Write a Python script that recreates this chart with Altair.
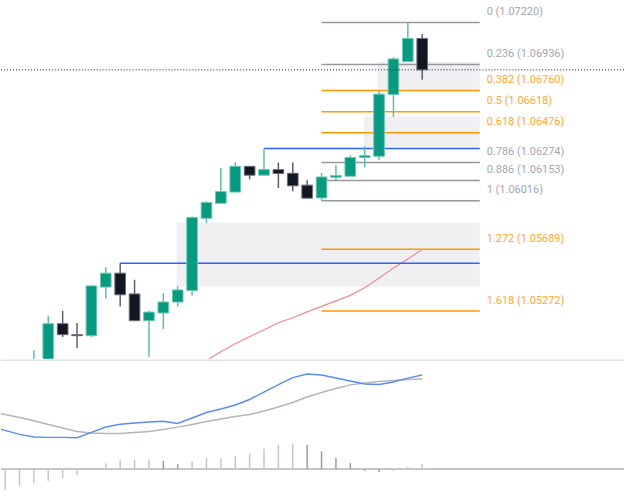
import altair as alt
import pandas as pd

# ---------------- data ----------------
idx = list(range(28))
opens  = [1.04870, 1.04880, 1.05187, 1.05113, 1.05106, 1.05434, 1.05528, 1.05388, 1.05207, 1.05259,
          1.05333, 1.05411, 1.05898, 1.05999, 1.06075, 1.06249, 1.06189, 1.06227, 1.06202, 1.06122,
          1.06036, 1.06175, 1.06182, 1.06308, 1.06317, 1.06734, 1.06956, 1.07112]
highs  = [1.05007, 1.05240, 1.05274, 1.05191, 1.05449, 1.05568, 1.05595, 1.05483, 1.05274, 1.05393,
          1.05442, 1.05911, 1.06014, 1.06238, 1.06274, 1.06249, 1.06370, 1.06274, 1.06274, 1.06155,
          1.06204, 1.06256, 1.06323, 1.06384, 1.06761, 1.06985, 1.07220, 1.07142]
lows   = [1.04840, 1.04860, 1.05097, 1.05021, 1.05097, 1.05357, 1.05303, 1.05207, 1.04963, 1.05151,
          1.05303, 1.05377, 1.05864, 1.05999, 1.06075, 1.06162, 1.06189, 1.06103, 1.06081, 1.06034,
          1.06016, 1.06149, 1.06182, 1.06241, 1.06294, 1.06581, 1.06956, 1.06833]
closes = [1.04930, 1.05187, 1.05113, 1.05106, 1.05442, 1.05528, 1.05382, 1.05207, 1.05265, 1.05333,
          1.05415, 1.05904, 1.06005, 1.06079, 1.06249, 1.06189, 1.06227, 1.06200, 1.06117, 1.06034,
          1.06177, 1.06187, 1.06308, 1.06321, 1.06736, 1.06974, 1.07112, 1.06900]

ma_idx = list(range(12, 28))
ma_vals = [1.04938, 1.04998, 1.05052, 1.05099, 1.05146, 1.05193, 1.05227, 1.05267,
           1.05304, 1.05341, 1.05378, 1.05429, 1.05496, 1.05563, 1.05624, 1.05688]

fib_levels = ["0", "0.236", "0.382", "0.5", "0.618", "0.786", "0.886", "1", "1.272", "1.618"]
fib_prices = [1.07220, 1.06936, 1.06760, 1.06618, 1.06476, 1.06274, 1.06153, 1.06016, 1.05689, 1.05272]
fib_kind   = ["g", "g", "o", "o", "o", "g", "g", "g", "o", "o"]
fib_start, fib_end = 20, 31

zone_x0  = [9.92, 22.96, 23.9]
zone_top = [1.05868, 1.06586, 1.06954]
zone_bot = [1.05436, 1.06379, 1.06760]

blue_x0    = [6, 16]
blue_price = [1.05595, 1.06370]

last_price = 1.06900

macd_idx = list(range(-3, 28))
macd = [10.7, 9.68, 8.68, 8.0, 7.93, 7.93, 7.85, 9.18, 10.55, 11.25, 11.55, 11.8, 12.0, 11.43, 12.8, 14.18,
        15.05, 16.05, 17.43, 19.3, 21.18, 22.93, 23.85, 23.6, 22.8, 22.05, 21.3, 21.18, 21.8, 22.8, 23.6]
signal = [14.4, 13.68, 12.93, 12.1, 11.18, 10.3, 9.43, 9.0, 8.93, 8.93, 9.18, 9.43, 9.93, 10.5, 11.18, 11.93,
          12.55, 13.18, 13.68, 14.55, 15.55, 16.68, 18.05, 19.18, 20.18, 21.1, 21.55, 21.93, 22.18, 22.43, 22.6]
hist = [-5.9, -5.33, -4.25, -3.65, -3.0, -2.25, -1.58, -0.25, 1.43, 2.33, 2.33, 2.33, 2.08, 1.18, 1.93, 2.75,
        2.75, 3.25, 3.83, 5.08, 6.08, 6.25, 6.08, 4.43, 2.75, 1.5, -0.43, -0.75, -0.5, 0.58, 1.25]

# ---------------- frames ----------------
W = 625
H1, H2 = 359, 139
XDOM = [-2.287, 41.03]
YDOM = [1.04951, 1.07366]
MDOM = [-7.33, 27.43]

cd = pd.DataFrame({"i": idx, "open": opens, "high": highs, "low": lows, "close": closes})
cd["dir"] = ["up" if c >= o else "down" for o, c in zip(opens, closes)]
cd["btop"] = cd[["open", "close"]].max(axis=1)
cd["bbot"] = cd[["open", "close"]].min(axis=1)

xs = alt.Scale(domain=XDOM, nice=False, zero=False)
ys = alt.Scale(domain=YDOM, nice=False, zero=False)
ms = alt.Scale(domain=MDOM, nice=False, zero=False)

X = lambda f: alt.X(f, type="quantitative", scale=xs, axis=None)
Y = lambda f: alt.Y(f, type="quantitative", scale=ys, axis=None)

zones = pd.DataFrame({"x0": zone_x0, "x1": [fib_end] * 3, "top": zone_top, "bot": zone_bot})
zone_layer = alt.Chart(zones).mark_rect(color="#f0f0f3", clip=True).encode(
    x=X("x0"), x2="x1", y=Y("top"), y2="bot")

blue = pd.DataFrame({"x0": blue_x0, "x1": [fib_end] * 2, "p": blue_price})
blue_layer = alt.Chart(blue).mark_rule(color="#2962ff", strokeWidth=1.5, clip=True).encode(
    x=X("x0"), x2="x1", y=Y("p"))

fib = pd.DataFrame({"lvl": fib_levels, "p": fib_prices, "kind": fib_kind,
                    "x0": [fib_start] * len(fib_levels), "x1": [fib_end] * len(fib_levels)})
fib["label"] = [f"{l} ({p:.5f})" for l, p in zip(fib_levels, fib_prices)]
line_col = alt.Color("kind:N", scale=alt.Scale(domain=["g", "o"], range=["#9598a1", "#ff9800"]), legend=None)
text_col = alt.Color("kind:N", scale=alt.Scale(domain=["g", "o"], range=["#a3a6af", "#ffa532"]), legend=None)
fib_lines = alt.Chart(fib).mark_rule(strokeWidth=1.5, clip=True).encode(
    x=X("x0"), x2="x1", y=Y("p"), color=line_col)
fib_text = alt.Chart(fib).mark_text(align="left", baseline="middle", dx=7, dy=-10.5,
                                    font="Roboto", fontSize=11).encode(
    x=X("x1"), y=Y("p"), text="label:N", color=text_col)

ma = pd.DataFrame({"i": ma_idx, "v": ma_vals})
ma_layer = alt.Chart(ma).mark_line(color="#f28b8f", strokeWidth=1.2, clip=True).encode(
    x=X("i"), y=Y("v"))

wick_col = alt.Color("dir:N", scale=alt.Scale(domain=["up", "down"], range=["#5dbfa9", "#5d606b"]), legend=None)
body_col = alt.Color("dir:N", scale=alt.Scale(domain=["up", "down"], range=["#089981", "#131722"]), legend=None)
stroke_col = alt.Stroke("dir:N", scale=alt.Scale(domain=["up", "down"], range=["#6cc8b3", "#6a6d78"]), legend=None)

wicks = alt.Chart(cd).mark_rule(strokeWidth=1.5, clip=True).encode(
    x=X("i"), y=Y("low"), y2="high", color=wick_col)
bodies = alt.Chart(cd).transform_calculate(
    xl="datum.i - 0.37", xr="datum.i + 0.37"
).mark_rect(clip=True, strokeWidth=1).encode(
    x=X("xl"), x2="xr", y=Y("btop"), y2="bbot", color=body_col, stroke=stroke_col)

price_line = alt.Chart(pd.DataFrame({"p": [last_price]})).mark_rule(
    color="#131722", strokeDash=[1, 2], strokeWidth=1).encode(
    x=alt.value(0), x2=alt.value(W), y=Y("p"))

upper = alt.layer(zone_layer, ma_layer, blue_layer, fib_lines, fib_text, wicks, bodies, price_line).properties(
    width=W, height=H1).resolve_scale(color="independent", stroke="independent")

# ---------------- MACD pane ----------------
md = pd.DataFrame({"i": macd_idx, "macd": macd, "signal": signal, "hist": hist})
md["zero"] = 0.0
prev = [None] + hist[:-1]
md["trend"] = ["rise" if (p is None or h >= p) else "fall" for h, p in zip(hist, prev)]

MX = lambda f: alt.X(f, type="quantitative", scale=xs, axis=None)
MY = lambda f: alt.Y(f, type="quantitative", scale=ms, axis=None)

sep = alt.Chart(pd.DataFrame({"z": [0]})).mark_rule(color="#e0e3eb", strokeWidth=1.5).encode(
    x=alt.value(0), x2=alt.value(W), y=alt.value(0.5))
zero_line = alt.Chart(pd.DataFrame({"z": [0.0]})).mark_rule(color="#b2b5be", strokeWidth=1.5).encode(
    x=alt.value(0), x2=alt.value(W), y=MY("z"))
hist_layer = alt.Chart(md).mark_rule(strokeWidth=1.5, clip=True).encode(
    x=MX("i"), y=MY("zero"), y2="hist",
    color=alt.Color("trend:N", scale=alt.Scale(domain=["rise", "fall"], range=["#c4c7ce", "#9a9da6"]), legend=None))
sig_layer = alt.Chart(md).mark_line(color="#b2b5be", strokeWidth=1.5, clip=True).encode(
    x=MX("i"), y=MY("signal"))
macd_layer = alt.Chart(md).mark_line(color="#5b8cf2", strokeWidth=1.5, clip=True).encode(
    x=MX("i"), y=MY("macd"))

lower = alt.layer(sep, zero_line, hist_layer, sig_layer, macd_layer).properties(width=W, height=H2)

chart = alt.vconcat(upper, lower, spacing=0).properties(
    padding=0, background="white"
).configure_view(strokeWidth=0).configure_concat(spacing=0)

chart.save("out.html", embed_options={"renderer": "svg", "actions": False})
